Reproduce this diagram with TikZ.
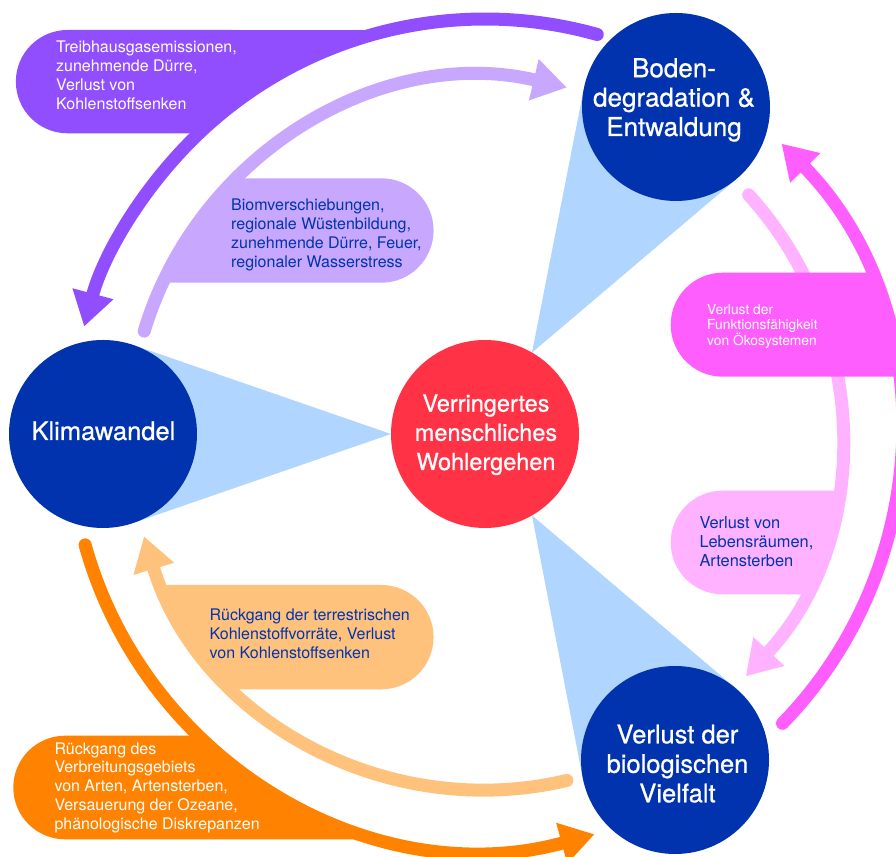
\documentclass[tikz,border=0pt]{standalone}
\usepackage{fontspec}
\setmainfont{TeX Gyre Heros}
\newfontfamily\titlefont[FakeBold=0.8]{TeX Gyre Heros}
\usetikzlibrary{arrows.meta,calc,backgrounds}
\definecolor{dblue}{RGB}{0,51,173}
\definecolor{cred}{RGB}{255,50,70}
\definecolor{cwedge}{RGB}{176,214,255}
\definecolor{cpurple}{RGB}{145,78,255}
\definecolor{clpurple}{RGB}{200,168,255}
\definecolor{cmag}{RGB}{255,94,255}
\definecolor{cpink}{RGB}{255,178,255}
\definecolor{corange}{RGB}{255,130,0}
\definecolor{clorange}{RGB}{255,194,125}
\begin{document}
\begin{tikzpicture}[x=1pt,y=1pt,
  circ/.style={circle, minimum size=188pt, inner sep=0pt, outer sep=0pt},
  ctext/.style={text=white, font=\titlefont\fontsize{25.5}{29.5}\selectfont, align=center, anchor=base, inner sep=0pt},
  btext/.style={font=\fontsize{16}{19}\selectfont, align=left, anchor=base west, inner sep=0pt},
  arr/.style={line width=13pt, line cap=round, -{Triangle[length=34pt,width=40pt]}}]
\useasboundingbox (0,0) rectangle (896,856);
\coordinate (C) at (485,422);
% circles
\node[circ, fill=dblue] (klima) at (103,422) {};
\node[circ, fill=dblue] (boden) at (676,749) {};
\node[circ, fill=dblue] (bio) at (675,96) {};
\node[circ, fill=cred] (wohl) at (485,422) {};
\begin{scope}[on background layer]
\fill[white] (0,0) rectangle (896,856);
\fill[cwedge] (wohl.west) -- (tangent cs:node=klima,point={(wohl.west)},solution=1) -- (klima.center) -- (tangent cs:node=klima,point={(wohl.west)},solution=2) -- cycle;
\fill[cwedge] (wohl.60) -- (tangent cs:node=boden,point={(wohl.60)},solution=1) -- (boden.center) -- (tangent cs:node=boden,point={(wohl.60)},solution=2) -- cycle;
\fill[cwedge] (wohl.-60) -- (tangent cs:node=bio,point={(wohl.-60)},solution=1) -- (bio.center) -- (tangent cs:node=bio,point={(wohl.-60)},solution=2) -- cycle;
\end{scope}
% circle texts (anchor = baseline of last line)
\node[ctext, font=\titlefont\fontsize{26}{29.4}\selectfont] (tboden) at (674,856-136) {Boden-\\degradation \&\\Entwaldung};
\node[ctext] (tklima) at (103.4,856-440) {Klimawandel};
\node[ctext, font=\titlefont\fontsize{23.5}{29.2}\selectfont] (twohl) at (486,856-470) {Verringertes\\menschliches\\Wohlergehen};
\node[ctext] (tbio) at (677.5,856-802.3) {Verlust der\\biologischen\\Vielfalt};
% purple box + arcs
\pgfmathsetmacro\ta{180-asin((826-422)/415)}
\pgfmathsetmacro\tb{180-asin((722.7-422)/415)}
\fill[cpurple] (67.5,826) -- ($(C)+(\ta:415)$) arc[start angle=\ta,end angle=\tb,radius=415] -- (67.5,722.7) arc[start angle=270,end angle=90,radius=51.65] -- cycle;
\draw[arr, cpurple] ($(C)+(74.3:415)$) arc[start angle=74.3,end angle=165,radius=415];
\pgfmathsetmacro\ta{180-asin((677.7-422)/356)}
\pgfmathsetmacro\tb{180-asin((573.3-422)/356)}
\fill[clpurple] (381.4,677.7) -- ($(C)+(\ta:356)$) arc[start angle=\ta,end angle=\tb,radius=356] -- (381.4,573.3) arc[start angle=-90,end angle=90,radius=52.2] -- cycle;
\draw[arr, clpurple] ($(C)+(163.2:356)$) arc[start angle=163.2,end angle=76.7,radius=356];
% orange
\pgfmathsetmacro\ta{180-asin((271-422)/356)}
\pgfmathsetmacro\tb{180-asin((166.7-422)/356)}
\fill[clorange] (381.4,271) -- ($(C)+(\ta:356)$) arc[start angle=\ta,end angle=\tb,radius=356] -- (381.4,166.7) arc[start angle=-90,end angle=90,radius=52.15] -- cycle;
\draw[arr, clorange] ($(C)+(283.3:356)$) arc[start angle=283.3,end angle=196.7,radius=356];
\pgfmathsetmacro\ta{180-asin((120.3-422)/415)}
\pgfmathsetmacro\tb{180-asin((16.7-422)/415)}
\fill[corange] (65.1,120.3) -- ($(C)+(\ta:415)$) arc[start angle=\ta,end angle=\tb,radius=415] -- (65.1,16.7) arc[start angle=270,end angle=90,radius=51.8] -- cycle;
\draw[arr, corange] ($(C)+(195.5:415)$) arc[start angle=195.5,end angle=285.3,radius=415];
% pink / magenta
\draw[arr, cpink] ($(C)+(42.2:356)$) arc[start angle=42.2,end angle=-42.9,radius=356];
\pgfmathsetmacro\ta{asin((365.3-422)/356)}
\pgfmathsetmacro\tb{asin((261.7-422)/356)}
\fill[cpink] (722.5,365.3) -- ($(C)+(\ta:356)$) arc[start angle=\ta,end angle=\tb,radius=356] -- (722.5,261.7) arc[start angle=270,end angle=90,radius=51.8] -- cycle;
\pgfmathsetmacro\ta{asin((583.3-422)/415)}
\pgfmathsetmacro\tb{asin((479.3-422)/415)}
\fill[cmag] (722.7,583.3) -- ($(C)+(\ta:415)$) arc[start angle=\ta,end angle=\tb,radius=415] -- (722.7,479.3) arc[start angle=270,end angle=90,radius=52] -- cycle;
\draw[arr, cmag] ($(C)+(-44.2:415)$) arc[start angle=-44.2,end angle=44.4,radius=415];
% box texts (anchor = baseline of last line)
\node[btext, text=white] (tpurple) at (56,856-110) {Treibhausgasemissionen,\\zunehmende Dürre,\\Verlust von\\Kohlenstoffsenken};
\node[btext, text=dblue] (tlpurple) at (231,856-268) {Biomverschiebungen,\\regionale Wüstenbildung,\\zunehmende Dürre, Feuer,\\regionaler Wasserstress};
\node[btext, text=white, font=\fontsize{13.8}{15.8}\selectfont] (tmag) at (707,856-345.7) {Verlust der\\Funktionsfähigkeit\\von Ökosystemen};
\node[btext, text=dblue, font=\fontsize{16.4}{19.2}\selectfont] (tpink) at (699.3,856-566.7) {Verlust von\\Lebensräumen,\\Artensterben};
\node[btext, text=dblue] (tlorange) at (209.5,856-658.3) {Rückgang der terrestrischen\\Kohlenstoffvorräte, Verlust\\von Kohlenstoffsenken};
\node[btext, text=white, font=\fontsize{16}{18.8}\selectfont] (torange) at (54.3,856-829.3) {Rückgang des\\Verbreitungsgebiets\\von Arten, Artensterben,\\Versauerung der Ozeane,\\phänologische Diskrepanzen};
\end{tikzpicture}
\end{document}
